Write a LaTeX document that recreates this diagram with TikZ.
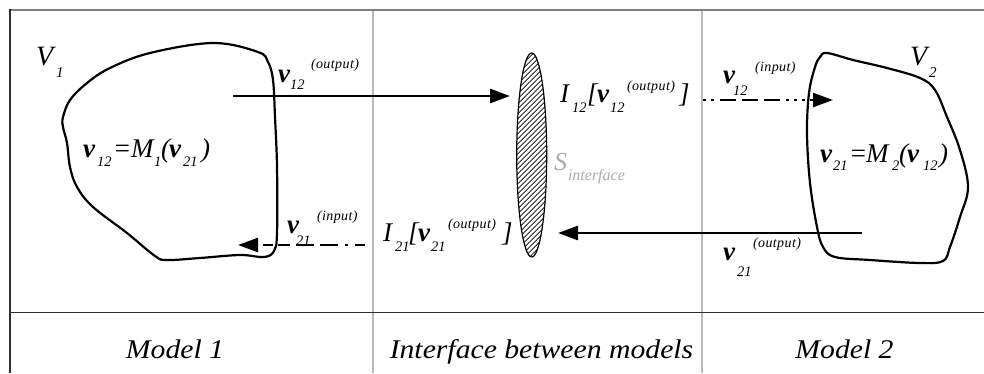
\documentclass[tikz,border=0pt]{standalone}
\usepackage{fontspec}
\setmainfont{Liberation Serif}
\newfontfamily\xmathf{Liberation Serif}
\newfontfamily\xsupf{Liberation Serif}[LetterSpace=3]
\newfontfamily\xcapf{Liberation Serif}[FakeStretch=1.1]
\usetikzlibrary{arrows.meta,shapes.geometric,calc}
\definecolor{framegray}{RGB}{128,128,128}
\definecolor{darkline}{RGB}{45,45,45}
\definecolor{lightline}{RGB}{185,185,185}
\definecolor{sgray}{RGB}{170,170,170}
\newcommand\xPC[3]{\rlap{\hspace*{#1pt}\raisebox{#2pt}{#3}}}
\newcommand\xMV[1]{{\xmathf\itshape\fontsize{27}{30}\selectfont #1}}
\newcommand\xBV{{\xmathf\bfseries\itshape\fontsize{27}{30}\selectfont v}}
\newcommand\xSB[1]{{\itshape\fontsize{14.5}{16}\selectfont #1}}
\newcommand\xSP[1]{{\xsupf\itshape\fontsize{14}{16}\selectfont #1}}
\begin{document}
\begin{tikzpicture}[x=1pt,y=-1pt,
  lbl/.style={anchor=base west,inner sep=0pt,outer sep=0pt},
  captxt/.style={anchor=base,inner sep=0pt,font=\xcapf\itshape\fontsize{27}{30}\selectfont},
  blob/.style={line width=2.2pt,line join=round},
  arr/.style={line width=2.8pt,-{Triangle[length=20pt,width=14pt]}},
  dasharr/.style={line width=2.5pt,-{Triangle[length=20pt,width=14pt]}},
  hatch/.style={line width=0.7pt}]
\useasboundingbox (0,0) rectangle (984,373);
\fill[white] (0,0) rectangle (984,373);
% frame
\draw[line width=2pt,framegray] (10,10) -- (984,10);
\draw[line width=1.8pt,darkline] (10,9) -- (10,373);
\draw[line width=1.5pt,lightline] (373,11) -- (373,373);
\draw[line width=1.5pt,lightline] (702,11) -- (702,373);
\draw[line width=1.6pt,darkline] (10,312.5) -- (984,312.5);
% blobs
\draw[blob] plot[smooth cycle,tension=0.6] coordinates {(63,117) (70,100) (87,83) (110,68) (150,53) (213,43) (258,52) (268,62) (273,80) (275,117) (277,167) (277,233) (274,251) (264,257) (240,255) (200,258) (167,260) (155,256) (127,233) (93,207) (77,187) (70,167) (67,143) (63,127)};
\draw[blob] plot[smooth cycle,tension=0.6] coordinates {(827,53) (853,60) (887,68) (920,78) (935,90) (947,117) (960,150) (968,187) (960,217) (950,247) (943,261) (920,263) (870,260) (835,257) (823,247) (817,227) (810,183) (807,133) (809,93) (815,67) (820,57)};
% interface ellipse
\node[ellipse,draw,line width=1.2pt,minimum width=30pt,minimum height=204pt,inner sep=0pt,
  path picture={\foreach \k in {-150,-145,...,150}{\draw[hatch] ($(path picture bounding box.center)+(\k-120,120)$) -- ($(path picture bounding box.center)+(\k+120,-120)$);}}]
  (iface) at (531.7,155) {};
% arrows
\coordinate (a1s) at (233,96); \coordinate (a1e) at (510,96);
\coordinate (a2s) at (862,233); \coordinate (a2e) at (558,233);
\coordinate (a3s) at (703,100); \coordinate (a3e) at (833,100);
\coordinate (a4s) at (365,245); \coordinate (a4e) at (238,245);
\draw[arr] (a1s) -- (a1e);
\draw[arr] (a2s) -- (a2e);
\draw[dasharr,dash pattern=on 3pt off 5pt on 3pt off 6pt on 16pt off 6pt on 16pt off 6pt on 16pt off 6pt on 3pt off 5pt on 3pt off 5pt] (a3s) -- (a3e);
\draw[dasharr,dash pattern=on 10pt off 7pt on 3pt off 7pt on 18pt off 6pt on 18pt off 6pt on 12pt off 5pt] (a4s) -- (a4e);
% labels
\node[lbl] (V1) at (36,65) {\xPC{0}{0}{{\xmathf\itshape\fontsize{28}{30}\selectfont V}}\xPC{20}{-12}{{\itshape\fontsize{15}{16}\selectfont 1}}\hspace*{28pt}};
\node[lbl] (V2) at (910,65) {\xPC{0}{0}{{\xmathf\itshape\fontsize{28}{30}\selectfont V}}\xPC{19}{-12}{{\itshape\fontsize{15}{16}\selectfont 2}}\hspace*{28pt}};
\node[lbl] (vA) at (278,82) {\xPC{0}{0}{\xBV}\xPC{12}{-7}{\xSB{12}}\xPC{33}{14}{\xSP{(output)}}\hspace*{86pt}};
\node[lbl] (vB) at (287,233) {\xPC{0}{0}{\xBV}\xPC{9}{-12}{\xSB{21}}\xPC{30}{13}{\xSP{(input)}}\hspace*{78pt}};
\node[lbl] (eq1) at (83,157) {\xPC{0}{0}{\xBV}\xPC{14}{-9}{\xSB{12}}\xPC{30}{0}{\xMV{=}}\xPC{48}{0}{\xMV{M}}\xPC{71}{-9}{\xSB{1}}\xPC{78}{0}{\xMV{(}}\xPC{86}{0}{\xBV}\xPC{100}{-9}{\xSB{21}}\xPC{118}{0}{\xMV{)}}\hspace*{127pt}};
\node[lbl] (eq2) at (820,162) {\xPC{0}{0}{\xBV}\xPC{13}{-8}{\xSB{21}}\xPC{29}{0}{\xMV{=}}\xPC{46}{0}{\xMV{M}}\xPC{72}{-8}{\xSB{2}}\xPC{79}{0}{\xMV{(}}\xPC{87}{0}{\xBV}\xPC{103}{-8}{\xSB{12}}\xPC{119}{0}{\xMV{)}}\hspace*{128pt}};
\node[lbl] (I12) at (560,102) {\xPC{0}{0}{\xMV{I}}\xPC{12}{-10}{\xSB{12}}\xPC{27}{0}{\xMV{[}}\xPC{37}{0}{\xBV}\xPC{50}{-10}{\xSB{12}}\xPC{67}{12}{\xSP{(output)}}\xPC{119}{0}{\xMV{]}}\hspace*{128pt}};
\node[lbl] (I21) at (383,241) {\xPC{0}{0}{\xMV{I}}\xPC{12}{-10}{\xSB{21}}\xPC{25}{0}{\xMV{[}}\xPC{35}{0}{\xBV}\xPC{48}{-10}{\xSB{21}}\xPC{65}{13}{\xSP{(output)}}\xPC{119}{0}{\xMV{]}}\hspace*{128pt}};
\node[lbl,text=sgray] (Sif) at (554,170) {\xPC{0}{0}{{\xmathf\itshape\fontsize{26}{28}\selectfont S}}\xPC{14}{-10}{{\itshape\fontsize{16}{18}\selectfont interface}}\hspace*{72pt}};
\node[lbl] (vI) at (723,83) {\xPC{0}{0}{\xBV}\xPC{10}{-12}{\xSB{12}}\xPC{32}{12}{\xSP{(input)}}\hspace*{78pt}};
\node[lbl] (vK) at (723,260) {\xPC{0}{0}{\xBV}\xPC{14}{-16}{\xSB{21}}\xPC{30}{13}{\xSP{(output)}}\hspace*{86pt}};
% captions
\node[captxt] (m1) at (175,358) {Model 1};
\node[captxt] (mi) at (541.5,358) {Interface between models};
\node[captxt] (m2) at (844.5,358) {Model 2};
\end{tikzpicture}
\end{document}
